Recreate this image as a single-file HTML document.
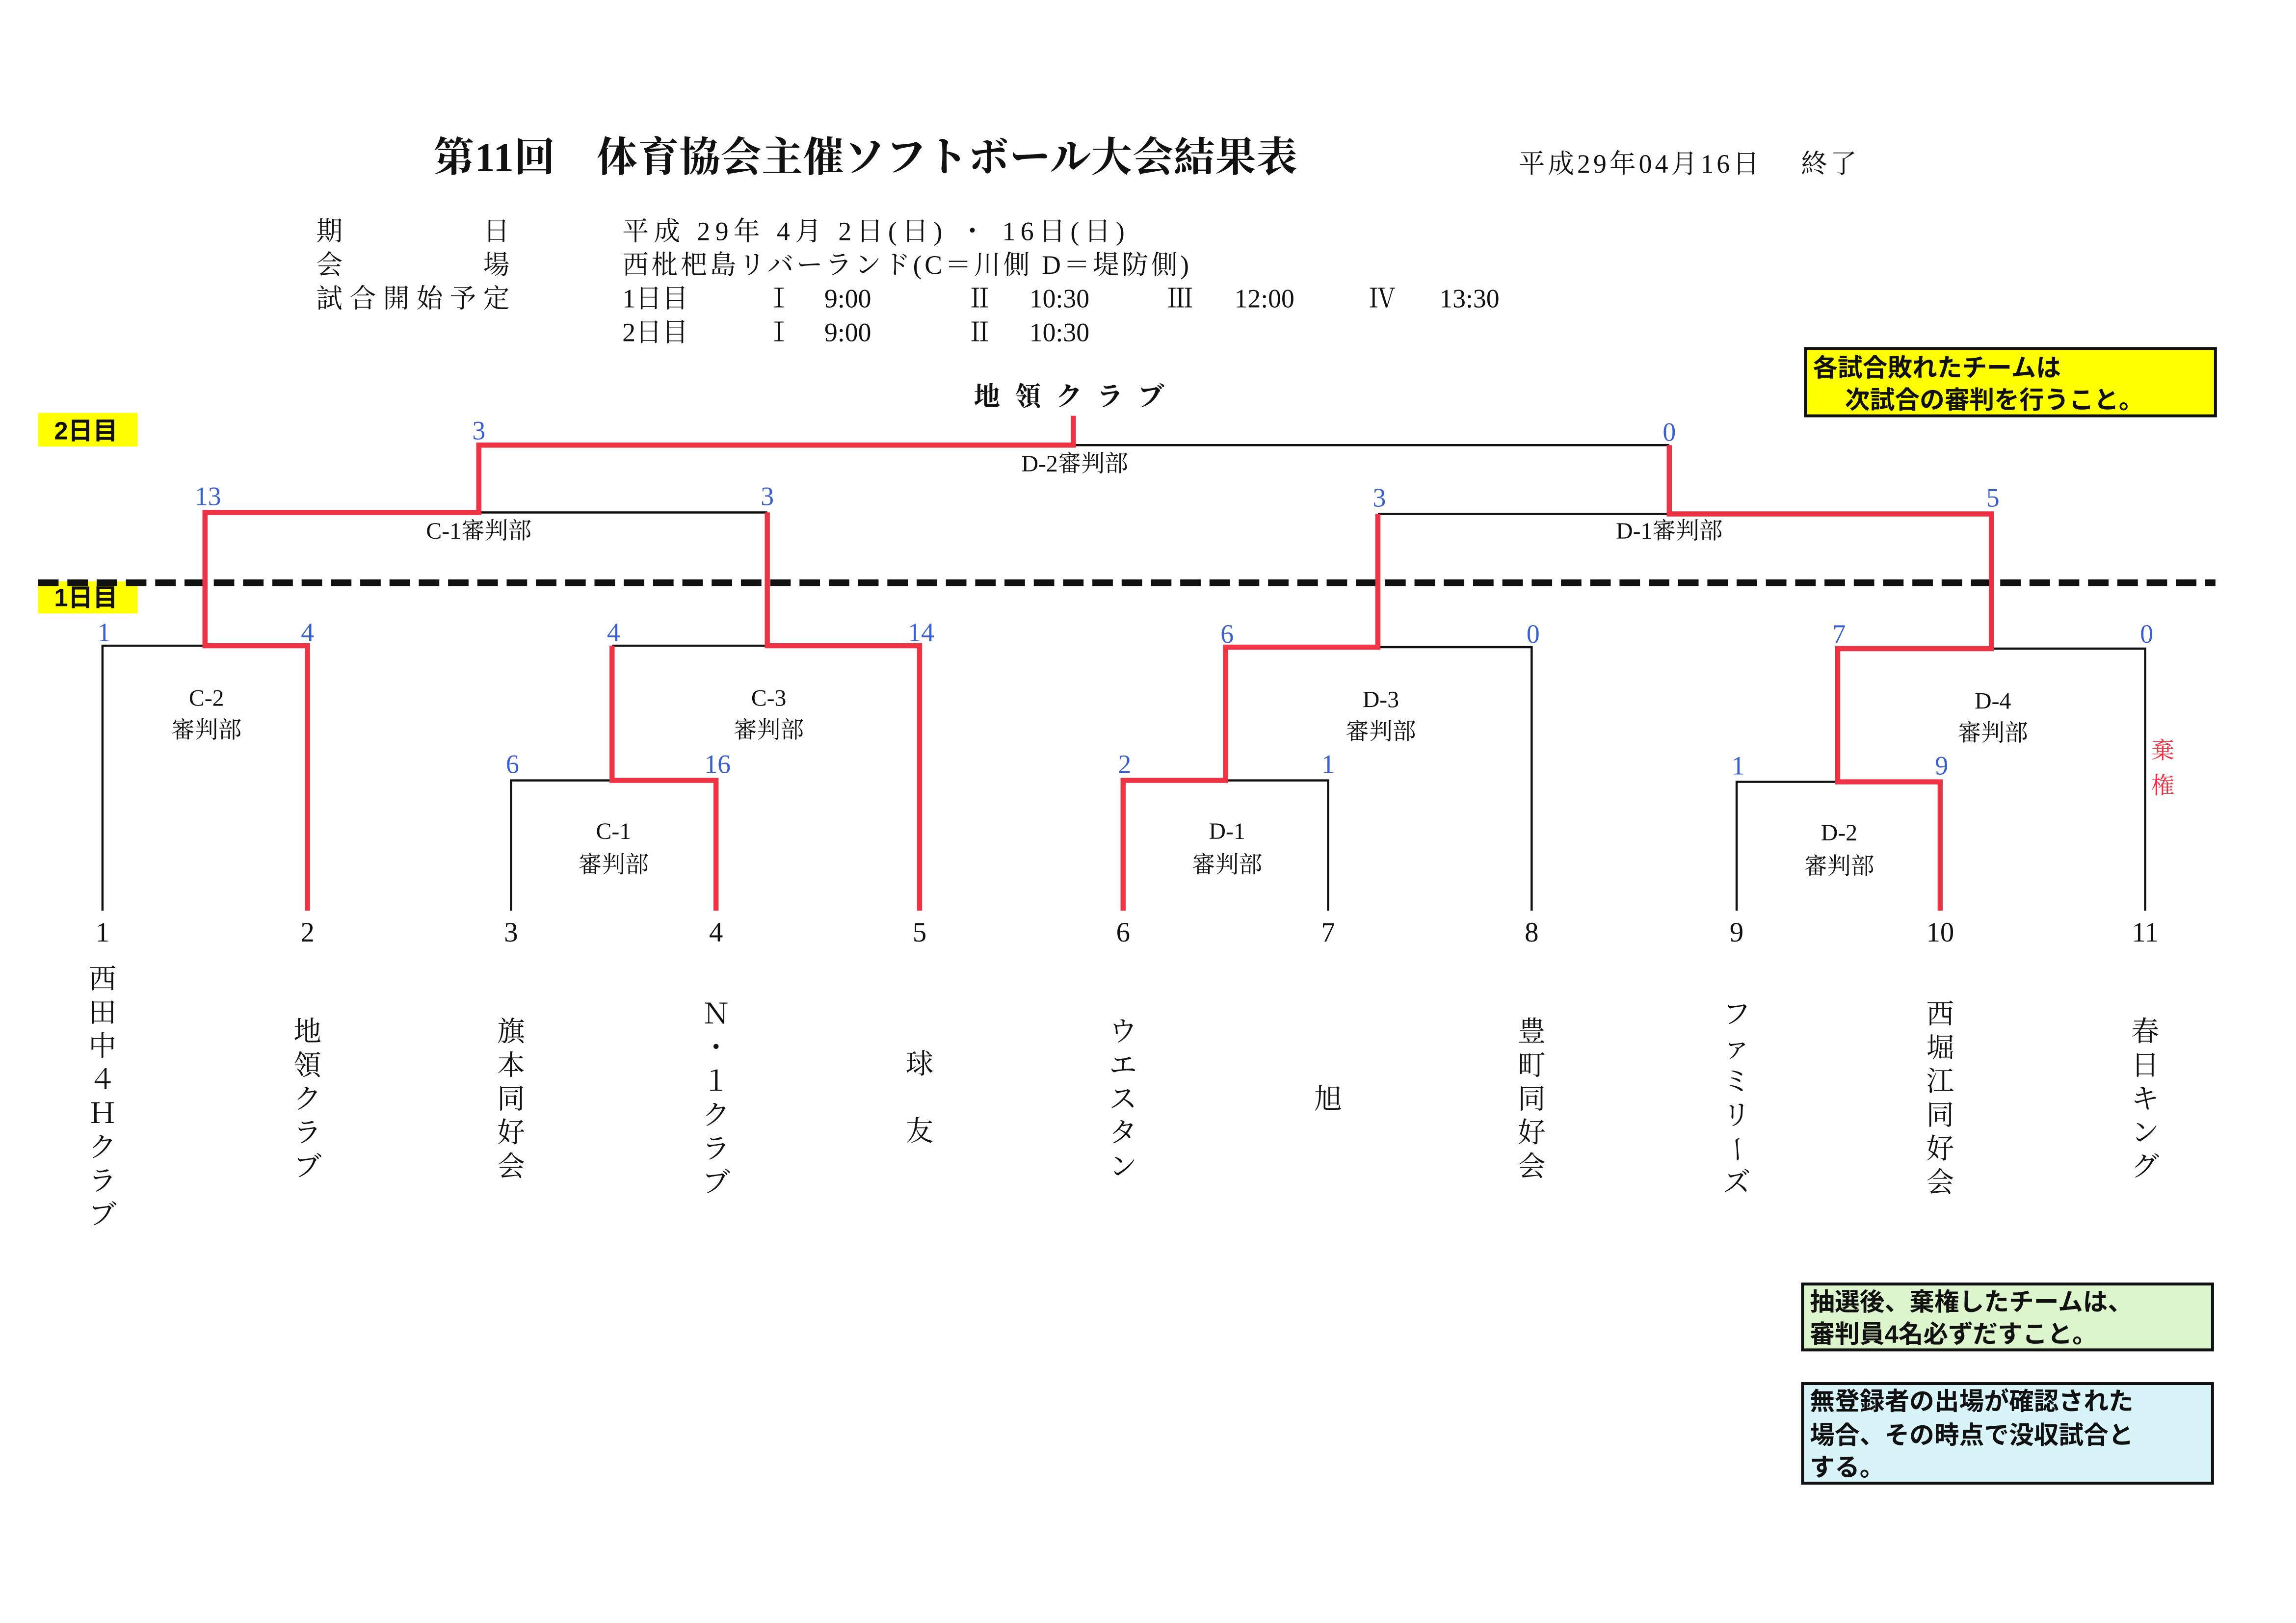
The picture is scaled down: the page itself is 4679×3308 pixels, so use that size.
<!DOCTYPE html>
<html><head><meta charset="utf-8"><style>
html,body{margin:0;padding:0;background:#fff;}
svg{display:block;}
text{font-family:"Liberation Serif","Noto Serif CJK SC",serif;}
.s{fill:#3a5fd0;font-size:18px;text-anchor:middle;}
.r{font-size:16px;text-anchor:middle;fill:#111;}
.t{font-size:19px;text-anchor:middle;fill:#111;}
.i{font-size:18px;fill:#111;}
.b{font-family:"Liberation Sans","Noto Sans CJK JP",sans-serif;font-weight:bold;font-size:17px;fill:#111;}
</style></head><body>
<svg width="4679" height="3308" viewBox="0 0 1568 1108.5" xmlns="http://www.w3.org/2000/svg">
<rect width="1568" height="1109" fill="#fff"/>
<text x="296" y="117" font-size="28" font-weight="bold" fill="#111" textLength="590">第11回　体育協会主催ソフトボール大会結果表</text>
<text x="1037" y="118" class="i" textLength="231">平成29年04月16日　 終了</text>
<text x="216" y="164" class="i">期</text><text x="330" y="164" class="i">日</text>
<text x="216" y="187" class="i">会</text><text x="330" y="187" class="i">場</text>
<text x="216" y="210" class="i" textLength="132">試合開始予定</text>
<text x="425" y="164" class="i" textLength="343">平成 29年 4月 2日(日) ・ 16日(日)</text>
<text x="425" y="187" class="i" textLength="387">西枇杷島リバーランド(C＝川側 D＝堤防側)</text>
<text x="425" y="210" class="i">1日目</text><text x="523" y="210" class="i">Ⅰ</text><text x="563" y="210" class="i">9:00</text>
<text x="660" y="210" class="i">Ⅱ</text><text x="703" y="210" class="i">10:30</text>
<text x="797" y="210" class="i">Ⅲ</text><text x="843" y="210" class="i">12:00</text>
<text x="935" y="210" class="i">Ⅳ</text><text x="983" y="210" class="i">13:30</text>
<text x="425" y="233" class="i">2日目</text><text x="523" y="233" class="i">Ⅰ</text><text x="563" y="233" class="i">9:00</text>
<text x="660" y="233" class="i">Ⅱ</text><text x="703" y="233" class="i">10:30</text>

<rect x="1233" y="238" width="280" height="46" fill="#ffff00" stroke="#111" stroke-width="2"/>
<text x="1238" y="257" class="b">各試合敗れたチームは</text>
<text x="1260" y="279" class="b">次試合の審判を行うこと。</text>

<text x="735" y="277" font-size="18" font-weight="bold" text-anchor="middle" fill="#111" letter-spacing="10">地領クラブ</text>

<rect x="26" y="282" width="68" height="23" fill="#ffff00"/>
<text x="37" y="300" class="b" font-size="16">2日目</text>
<rect x="26" y="397" width="68" height="22" fill="#ffff00"/>
<text x="37" y="414" class="b" font-size="16" font-weight="normal">1日目</text>
<line x1="26" y1="398" x2="1513" y2="398" stroke="#111" stroke-width="4.5" stroke-dasharray="14,6"/>

<g stroke="#111" stroke-width="1.5" fill="none">
<path d="M70 622V441H140"/>
<path d="M349 622V533H418"/>
<path d="M418 441H524"/>
<path d="M907 622V533H837"/>
<path d="M1046 622V442H941"/>
<path d="M1186 622V534H1255"/>
<path d="M1465 622V443H1360"/>
<path d="M327 350H524"/>
<path d="M941 351H1140"/>
<path d="M733 304H1140"/>
</g>
<g stroke="#ee3344" stroke-width="3.5" fill="none">
<path d="M210 622V441H140V350H327V304H733V284"/>
<path d="M628 622V441H524V350"/>
<path d="M489 622V533H418V441"/>
<path d="M767 622V533H837V442H941V351"/>
<path d="M1325 622V534H1255V443H1360V351H1140V304"/>
</g>

<text x="327" y="300" class="s">3</text><text x="1140" y="301" class="s">0</text>
<text x="142" y="345" class="s">13</text><text x="524" y="345" class="s">3</text>
<text x="942" y="346" class="s">3</text><text x="1361" y="346" class="s">5</text>
<text x="71" y="438" class="s">1</text><text x="210" y="438" class="s">4</text>
<text x="419" y="438" class="s">4</text><text x="629" y="438" class="s">14</text>
<text x="838" y="439" class="s">6</text><text x="1047" y="439" class="s">0</text>
<text x="1256" y="439" class="s">7</text><text x="1466" y="439" class="s">0</text>
<text x="350" y="528" class="s">6</text><text x="490" y="528" class="s">16</text>
<text x="768" y="528" class="s">2</text><text x="907" y="528" class="s">1</text>
<text x="1187" y="529" class="s">1</text><text x="1326" y="529" class="s">9</text>

<text x="734" y="322" class="r">D-2審判部</text>
<text x="327" y="368" class="r">C-1審判部</text>
<text x="1140" y="368" class="r">D-1審判部</text>
<text x="141" y="482" class="r">C-2</text><text x="141" y="504" class="r">審判部</text>
<text x="525" y="482" class="r">C-3</text><text x="525" y="504" class="r">審判部</text>
<text x="943" y="483" class="r">D-3</text><text x="943" y="505" class="r">審判部</text>
<text x="1361" y="484" class="r">D-4</text><text x="1361" y="506" class="r">審判部</text>
<text x="419" y="573" class="r">C-1</text><text x="419" y="596" class="r">審判部</text>
<text x="838" y="573" class="r">D-1</text><text x="838" y="596" class="r">審判部</text>
<text x="1256" y="574" class="r">D-2</text><text x="1256" y="597" class="r">審判部</text>
<text x="1477" y="518" class="r" style="fill:#ee3344" font-size="18">棄</text>
<text x="1477" y="542" class="r" style="fill:#ee3344" font-size="18">権</text>

<text x="70" y="643" class="t">1</text><text x="210" y="643" class="t">2</text><text x="349" y="643" class="t">3</text>
<text x="489" y="643" class="t">4</text><text x="628" y="643" class="t">5</text><text x="767" y="643" class="t">6</text>
<text x="907" y="643" class="t">7</text><text x="1046" y="643" class="t">8</text><text x="1186" y="643" class="t">9</text>
<text x="1325" y="643" class="t">10</text><text x="1465" y="643" class="t">11</text>

<text x="70" y="675" class="t">西</text><text x="70" y="698" class="t">田</text><text x="70" y="721" class="t">中</text><text x="70" y="744" class="t">４</text><text x="70" y="767" class="t">Ｈ</text><text x="70" y="790" class="t">ク</text><text x="70" y="813" class="t">ラ</text><text x="70" y="836" class="t">ブ</text>
<text x="210" y="711" class="t">地</text><text x="210" y="734" class="t">領</text><text x="210" y="757" class="t">ク</text><text x="210" y="780" class="t">ラ</text><text x="210" y="803" class="t">ブ</text>
<text x="349" y="711" class="t">旗</text><text x="349" y="734" class="t">本</text><text x="349" y="757" class="t">同</text><text x="349" y="780" class="t">好</text><text x="349" y="803" class="t">会</text>
<text x="489" y="699" class="t">Ｎ</text><text x="489" y="722" class="t">・</text><text x="489" y="745" class="t">１</text><text x="489" y="768" class="t">ク</text><text x="489" y="791" class="t">ラ</text><text x="489" y="814" class="t">ブ</text>
<text x="628" y="733" class="t">球</text><text x="628" y="779" class="t">友</text>
<text x="767" y="711" class="t">ウ</text><text x="767" y="734" class="t">エ</text><text x="767" y="757" class="t">ス</text><text x="767" y="780" class="t">タ</text><text x="767" y="803" class="t">ン</text>
<text x="907" y="757" class="t">旭</text>
<text x="1046" y="711" class="t">豊</text><text x="1046" y="734" class="t">町</text><text x="1046" y="757" class="t">同</text><text x="1046" y="780" class="t">好</text><text x="1046" y="803" class="t">会</text>
<text x="1186" y="699" class="t">フ</text><text x="1186" y="722" class="t">ァ</text><text x="1186" y="745" class="t">ミ</text><text x="1186" y="768" class="t">リ</text><text x="1186" y="791" class="t" transform="rotate(90 1186 785)">ー</text><text x="1186" y="814" class="t">ズ</text>
<text x="1325" y="699" class="t">西</text><text x="1325" y="722" class="t">堀</text><text x="1325" y="745" class="t">江</text><text x="1325" y="768" class="t">同</text><text x="1325" y="791" class="t">好</text><text x="1325" y="814" class="t">会</text>
<text x="1465" y="711" class="t">春</text><text x="1465" y="734" class="t">日</text><text x="1465" y="757" class="t">キ</text><text x="1465" y="780" class="t">ン</text><text x="1465" y="803" class="t">グ</text>

<rect x="1231" y="877" width="280" height="45" fill="#dcf5cc" stroke="#111" stroke-width="2"/>
<text x="1236" y="895" class="b">抽選後、棄権したチームは、</text>
<text x="1236" y="917" class="b">審判員4名必ずだすこと。</text>
<rect x="1231" y="945" width="280" height="68" fill="#d8f4f8" stroke="#111" stroke-width="2"/>
<text x="1236" y="963" class="b">無登録者の出場が確認された</text>
<text x="1236" y="986" class="b">場合、その時点で没収試合と</text>
<text x="1236" y="1008" class="b">する。</text>
</svg>
</body></html>
